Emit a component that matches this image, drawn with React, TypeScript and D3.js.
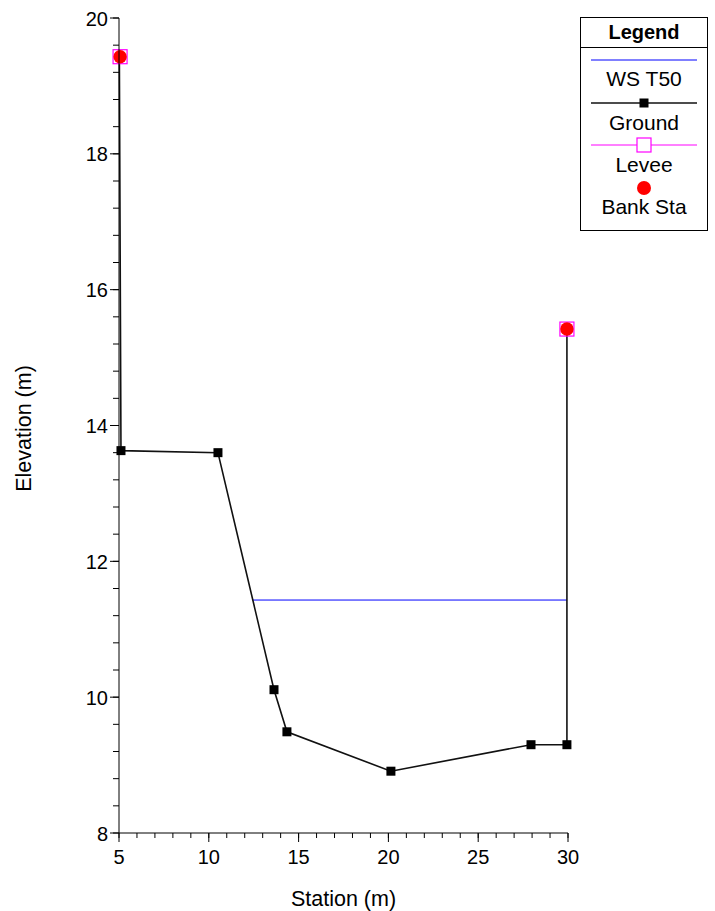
import React from "react";
import * as d3 from "d3";

// Cross-section profile
const groundStation = [5.02, 5.11, 10.51, 13.63, 14.35, 20.14, 27.94, 29.94, 29.94];
const groundElev = [19.43, 13.63, 13.6, 10.11, 9.49, 8.91, 9.3, 9.3, 15.42];

const leveeStation = [5.06, 29.94];
const leveeElev = [19.43, 15.42];

const bankStation = [5.06, 29.94];
const bankElev = [19.43, 15.42];

const wsStation = [12.46, 29.94];
const wsElev = [11.43, 11.43];

const xTicks = [5, 10, 15, 20, 25, 30];
const yTicks = [8, 10, 12, 14, 16, 18, 20];

const legendItems = ["WS T50", "Ground", "Levee", "Bank Sta"];

const W = 715;
const H = 911;
const FONT = "Liberation Sans, Arial, sans-serif";
const TICK_FS = 20;
const LABEL_FS = 21.5;
const LEGEND_FS = 21;

export default function App() {
  const x = d3.scaleLinear().domain([5, 30]).range([119, 568]);
  const y = d3.scaleLinear().domain([8, 20]).range([833, 18]);

  const line = d3
    .line<[number, number]>()
    .x((d) => x(d[0]))
    .y((d) => y(d[1]));

  const ground: [number, number][] = groundStation.map((s, i) => [s, groundElev[i]]);
  const ws: [number, number][] = wsStation.map((s, i) => [s, wsElev[i]]);

  const xMinor = d3.range(5, 30.001, 1);
  const yMinor = d3.range(8, 20.001, 0.4);

  const lx0 = 591;
  const lx1 = 697;
  const lcx = (lx0 + lx1) / 2;

  return (
    <svg
      width={W}
      height={H}
      style={{ position: "absolute", left: 0, top: 0, background: "#fff" }}
      fontFamily={FONT}
    >
      <rect width={W} height={H} fill="#fff" />

      {/* water surface */}
      <path d={line(ws) ?? ""} fill="none" stroke="#0000ff" strokeWidth={1} />

      {/* ground profile */}
      <path d={line(ground) ?? ""} fill="none" stroke="#111" strokeWidth={1.6} />
      {ground.slice(1, 8).map((d, i) => (
        <rect key={i} x={x(d[0]) - 4.5} y={y(d[1]) - 4.5} width={9} height={9} fill="#000" />
      ))}

      {/* levees */}
      {leveeStation.map((s, i) => (
        <rect
          key={i}
          x={x(s) - 7}
          y={y(leveeElev[i]) - 7}
          width={14}
          height={14}
          fill="none"
          stroke="#ff00ff"
          strokeWidth={1.2}
        />
      ))}
      {/* bank stations */}
      {bankStation.map((s, i) => (
        <circle key={i} cx={x(s)} cy={y(bankElev[i])} r={6.7} fill="#ff0000" />
      ))}

      {/* y axis */}
      <line x1={119} x2={119} y1={y(20)} y2={y(8)} stroke="#000" strokeWidth={1} />
      {yMinor.map((v) => (
        <line key={v} x1={113} x2={119} y1={y(v)} y2={y(v)} stroke="#000" strokeWidth={1} />
      ))}
      {yTicks.map((v) => (
        <g key={v}>
          <line x1={110} x2={119} y1={y(v)} y2={y(v)} stroke="#000" strokeWidth={1} />
          <text x={108} y={y(v) + 7.5} textAnchor="end" fontSize={TICK_FS} fill="#000">
            {v}
          </text>
        </g>
      ))}
      <text
        transform={`translate(31,${y(14) + 3}) rotate(-90)`}
        textAnchor="middle"
        fontSize={LABEL_FS}
        fill="#000"
      >
        Elevation (m)
      </text>

      {/* x axis */}
      <line x1={x(5)} x2={x(30)} y1={833} y2={833} stroke="#000" strokeWidth={1} />
      {xMinor.map((v) => (
        <line key={v} x1={x(v)} x2={x(v)} y1={833} y2={838} stroke="#000" strokeWidth={1} />
      ))}
      {xTicks.map((v) => (
        <g key={v}>
          <line x1={x(v)} x2={x(v)} y1={833} y2={842} stroke="#000" strokeWidth={1} />
          <text x={x(v)} y={864} textAnchor="middle" fontSize={TICK_FS} fill="#000">
            {v}
          </text>
        </g>
      ))}
      <text x={x(17.5)} y={906} textAnchor="middle" fontSize={LABEL_FS} fill="#000">
        Station (m)
      </text>

      {/* legend */}
      <rect x={580.5} y={17.5} width={127} height={213} fill="#fff" stroke="#000" strokeWidth={1} />
      <line x1={580.5} x2={707.5} y1={47.5} y2={47.5} stroke="#000" strokeWidth={1} />
      <text x={lcx} y={39} textAnchor="middle" fontSize={LEGEND_FS - 1} fontWeight="bold" fill="#000">
        Legend
      </text>

      <line x1={lx0} x2={lx1} y1={60} y2={60} stroke="#0000ff" strokeWidth={1} />
      <text x={lcx} y={86} textAnchor="middle" fontSize={LEGEND_FS} fill="#000">
        {legendItems[0]}
      </text>

      <line x1={lx0} x2={lx1} y1={103} y2={103} stroke="#111" strokeWidth={1.4} />
      <rect x={lcx - 4.5} y={98.5} width={9} height={9} fill="#000" />
      <text x={lcx} y={130} textAnchor="middle" fontSize={LEGEND_FS} fill="#000">
        {legendItems[1]}
      </text>

      <line x1={lx0} x2={lx1} y1={145} y2={145} stroke="#ff00ff" strokeWidth={1} />
      <rect x={lcx - 7} y={138} width={14} height={14} fill="#fff" stroke="#ff00ff" strokeWidth={1.2} />
      <text x={lcx} y={172} textAnchor="middle" fontSize={LEGEND_FS} fill="#000">
        {legendItems[2]}
      </text>

      <circle cx={lcx} cy={188} r={7} fill="#ff0000" />
      <text x={lcx} y={214} textAnchor="middle" fontSize={LEGEND_FS} fill="#000">
        {legendItems[3]}
      </text>
    </svg>
  );
}
